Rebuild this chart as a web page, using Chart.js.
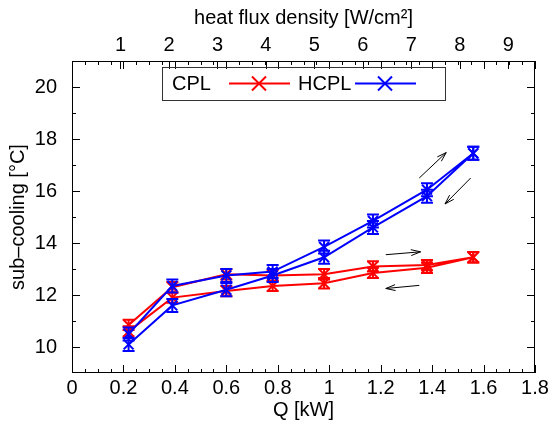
<!DOCTYPE html>
<html>
<head>
<meta charset="utf-8">
<script src="https://cdn.jsdelivr.net/npm/chart.js@4.4.0/dist/chart.umd.min.js"></script>
<style>
  html, body { margin: 0; padding: 0; background: #fff; }
  #wrap { width: 552px; height: 430px; }
</style>
</head>
<body>
<div id="wrap"><canvas id="chart"></canvas></div>
<script>
// --- data ---
const qUp = [0.22, 0.39, 0.60, 0.78, 0.98, 1.17, 1.38, 1.56];
const qDown = [1.56, 1.38, 1.17, 0.98, 0.78, 0.60, 0.39, 0.22];

const cplUp = [10.85, 12.3, 12.8, 12.75, 12.8, 13.1, 13.15, 13.45];
const cplDown = [13.45, 13.05, 12.85, 12.45, 12.35, 12.15, 11.9, 10.6];
const hcplUp = [10.5, 12.35, 12.75, 12.9, 13.85, 14.85, 16.05, 17.45];
const hcplDown = [17.45, 15.8, 14.6, 13.45, 12.75, 12.2, 11.6, 10.1];

// half height of the error bars [°C]
const cplErr = [0.2, 0.2, 0.2, 0.2, 0.2, 0.2, 0.2, 0.2];
const hcplErr = [0.25, 0.25, 0.25, 0.25, 0.25, 0.25, 0.25, 0.25];

const qTicks = [0, 0.2, 0.4, 0.6, 0.8, 1, 1.2, 1.4, 1.6, 1.8];
const fluxTicks = [1, 2, 3, 4, 5, 6, 7, 8, 9];
const tempTicks = [10, 12, 14, 16, 18, 20];
const fluxMax = 9.55; // W/cm2 at Q = 1.8 kW

// hysteresis arrows [Q, T] -> [Q, T]
const arrowFrom = [[1.35, 16.5], [1.55, 16.5], [1.22, 13.55], [1.35, 12.37]];
const arrowTo = [[1.455, 17.48], [1.45, 15.5], [1.355, 13.66], [1.22, 12.25]];

const FONT = "'Liberation Sans', Arial, sans-serif";
const RED = '#ff0000';
const BLUE = '#0000ff';

const loop = (up, down) => qUp.map((q, i) => ({ x: q, y: up[i] }))
    .concat(qDown.map((q, i) => ({ x: q, y: down[i] })));
const loopErr = (e) => e.concat(e.slice().reverse());

const drawX = (ctx, x, y, r) => {
    ctx.beginPath();
    ctx.moveTo(x - r, y - r); ctx.lineTo(x + r, y + r);
    ctx.moveTo(x - r, y + r); ctx.lineTo(x + r, y - r);
    ctx.stroke();
};

const gnuplotLook = {
    id: 'gnuplotLook',
    afterDatasetDraw(chart, args) {
        const ds = chart.data.datasets[args.index];
        const yS = chart.scales.y;
        const ctx = chart.ctx;
        ctx.save();
        ctx.strokeStyle = ds.borderColor;
        ctx.lineWidth = 2;
        args.meta.data.forEach((el, i) => {
            const v = ds.data[i].y, e = ds.errors[i];
            const y1 = yS.getPixelForValue(v + e), y2 = yS.getPixelForValue(v - e);
            ctx.beginPath();
            ctx.moveTo(el.x, y1); ctx.lineTo(el.x, y2);
            ctx.moveTo(el.x - 6, y1); ctx.lineTo(el.x + 6, y1);
            ctx.moveTo(el.x - 6, y2); ctx.lineTo(el.x + 6, y2);
            ctx.stroke();
        });
        ctx.restore();
    },
    afterDraw(chart) {
        const { ctx, chartArea: a, scales } = chart;
        const xS = scales.x, x2S = scales.x2, yS = scales.y;
        ctx.save();
        ctx.strokeStyle = '#000';
        ctx.lineWidth = 1;

        // frame
        ctx.strokeRect(a.left + 0.5, a.top + 0.5, a.right - a.left - 1, a.bottom - a.top - 1);

        // inward ticks, x (mirrored on top)
        ctx.beginPath();
        for (let k = 0; k <= 36; k++) {
            const q = k * 0.05;
            const px = Math.round(xS.getPixelForValue(q)) + 0.5;
            const len = k % 4 === 0 ? 8 : 4;
            ctx.moveTo(px, a.bottom); ctx.lineTo(px, a.bottom - len);
            ctx.moveTo(px, a.top); ctx.lineTo(px, a.top + len);
        }
        fluxTicks.forEach(f => {
            const px = Math.round(x2S.getPixelForValue(f)) + 0.5;
            ctx.moveTo(px, a.top); ctx.lineTo(px, a.top + 8);
        });
        // y ticks, left and right
        for (let t = 10; t <= 20; t++) {
            const py = Math.round(yS.getPixelForValue(t)) + 0.5;
            const len = t % 2 === 0 ? 8 : 4;
            ctx.moveTo(a.left, py); ctx.lineTo(a.left + len, py);
            ctx.moveTo(a.right, py); ctx.lineTo(a.right - len, py);
        }
        ctx.stroke();

        // arrows
        ctx.lineWidth = 1;
        arrowFrom.forEach((p, i) => {
            const x1 = xS.getPixelForValue(p[0]), y1 = yS.getPixelForValue(p[1]);
            const x2 = xS.getPixelForValue(arrowTo[i][0]), y2 = yS.getPixelForValue(arrowTo[i][1]);
            const ang = Math.atan2(y2 - y1, x2 - x1);
            ctx.beginPath();
            ctx.moveTo(x1, y1); ctx.lineTo(x2, y2);
            ctx.moveTo(x2 - 10 * Math.cos(ang - 0.3), y2 - 10 * Math.sin(ang - 0.3));
            ctx.lineTo(x2, y2);
            ctx.lineTo(x2 - 10 * Math.cos(ang + 0.3), y2 - 10 * Math.sin(ang + 0.3));
            ctx.stroke();
        });

        // legend box, gnuplot style (title left of sample)
        ctx.strokeStyle = '#333';
        ctx.strokeRect(162.5, 67.5, 283, 33);
        ctx.font = '20px ' + FONT;
        ctx.fillStyle = '#000';
        ctx.textBaseline = 'middle';
        ctx.textAlign = 'left';
        chart.data.datasets.forEach((ds, i) => {
            const x0 = 172 + i * 126;
            ctx.fillText(ds.label, x0, 84);
            const lx = x0 + 57;
            ctx.strokeStyle = ds.borderColor;
            ctx.lineWidth = 2;
            ctx.beginPath();
            ctx.moveTo(lx, 83.5); ctx.lineTo(lx + 61, 83.5);
            ctx.stroke();
            drawX(ctx, lx + 30, 83.5, 7);
        });
        ctx.restore();
    }
};

const init = () => {
    new Chart(document.getElementById('chart'), {
        type: 'line',
        data: {
            datasets: [
                {
                    label: 'CPL',
                    data: loop(cplUp, cplDown),
                    errors: loopErr(cplErr),
                    borderColor: RED,
                    backgroundColor: RED,
                    borderWidth: 2,
                    pointStyle: 'crossRot',
                    pointRadius: 7,
                    pointBorderWidth: 2,
                    tension: 0,
                    order: 2
                },
                {
                    label: 'HCPL',
                    data: loop(hcplUp, hcplDown),
                    errors: loopErr(hcplErr),
                    borderColor: BLUE,
                    backgroundColor: BLUE,
                    borderWidth: 2,
                    pointStyle: 'crossRot',
                    pointRadius: 7,
                    pointBorderWidth: 2,
                    tension: 0,
                    order: 1
                }
            ]
        },
        options: {
            responsive: true,
            maintainAspectRatio: false,
            animation: false,
            events: [],
            layout: { padding: { left: 0, right: 17, top: 0, bottom: 0 } },
            plugins: { legend: { display: false }, tooltip: { enabled: false } },
            scales: {
                x: {
                    type: 'linear', position: 'bottom', min: 0, max: 1.8,
                    afterBuildTicks: s => { s.ticks = qTicks.map(v => ({ value: v })); },
                    afterFit: s => { s.height = 57; },
                    grid: { display: false, drawTicks: false },
                    border: { display: false },
                    ticks: {
                        padding: 3, color: '#000', maxRotation: 0, autoSkip: false,
                        font: { family: FONT, size: 20 },
                        callback: v => String(+v.toFixed(1))
                    },
                    title: {
                        display: true, text: 'Q [kW]', color: '#000',
                        font: { family: FONT, size: 20 }, padding: { top: 0, bottom: 8 }
                    }
                },
                x2: {
                    type: 'linear', position: 'top', axis: 'x', min: 0, max: fluxMax,
                    afterBuildTicks: s => { s.ticks = fluxTicks.map(v => ({ value: v })); },
                    afterFit: s => { s.height = 61; },
                    grid: { display: false, drawTicks: false },
                    border: { display: false },
                    ticks: {
                        padding: 4, color: '#000', maxRotation: 0, autoSkip: false,
                        font: { family: FONT, size: 20 }
                    },
                    title: {
                        display: true, text: 'heat flux density [W/cm²]', color: '#000',
                        font: { family: FONT, size: 20 }, padding: { top: 6, bottom: 0 }
                    }
                },
                y: {
                    type: 'linear', position: 'left', min: 9, max: 21,
                    afterBuildTicks: s => { s.ticks = tempTicks.map(v => ({ value: v })); },
                    afterFit: s => { s.width = 72; },
                    grid: { display: false, drawTicks: false },
                    border: { display: false },
                    ticks: {
                        padding: 15, color: '#000', autoSkip: false,
                        font: { family: FONT, size: 20 }
                    },
                    title: {
                        display: true, text: 'sub–cooling [°C]', color: '#000',
                        font: { family: FONT, size: 20 }, padding: { top: 6, bottom: 0 }
                    }
                }
            }
        },
        plugins: [gnuplotLook]
    });
};

init();
</script>
</body>
</html>
